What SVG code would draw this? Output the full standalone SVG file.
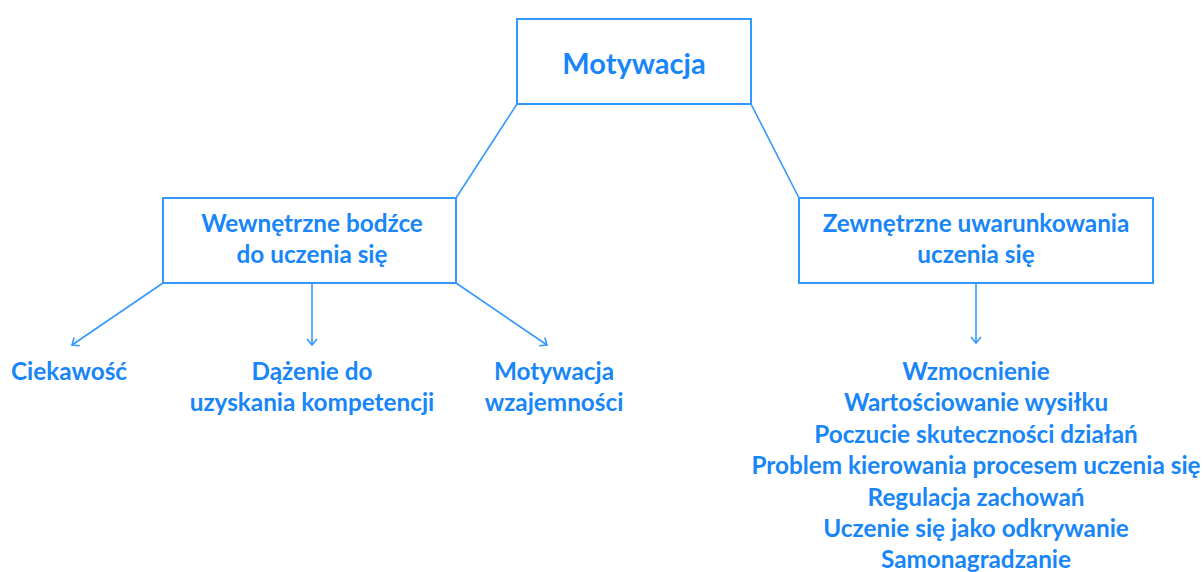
<svg xmlns="http://www.w3.org/2000/svg" width="1204" height="572" viewBox="0 0 1204 572">
  <defs>
    <style>
      .box { fill: #ffffff; stroke: #3399ff; stroke-width: 2; }
      .edge { fill: none; stroke: #3399ff; stroke-width: 1.6; }
      .arrow { fill: none; stroke: #3399ff; stroke-width: 1.6; marker-end: url(#head); }
      text { font-family: Lato, "Liberation Sans", sans-serif; font-weight: 700; fill: #1886f8; text-anchor: middle; }
      .t { font-size: 24.3px; }
      .title { font-size: 29px; }
    </style>
    <marker id="head" viewBox="-8 -6 10 12" markerWidth="10" markerHeight="12" refX="0" refY="0" orient="auto" markerUnits="userSpaceOnUse">
      <path d="M-6,-5 L0,0 L-6,5" fill="none" stroke="#3399ff" stroke-width="1.6"/>
    </marker>
  </defs>
  <rect width="1204" height="572" fill="#ffffff"/>

  <g id="connectors">
    <line class="edge" x1="517" y1="104" x2="456" y2="198"/>
    <line class="edge" x1="751" y1="104" x2="799" y2="198"/>
    <line class="arrow" x1="163" y1="283" x2="72" y2="345"/>
    <line class="arrow" x1="312" y1="283" x2="312" y2="345"/>
    <line class="arrow" x1="456" y1="283" x2="547" y2="345"/>
    <line class="arrow" x1="976" y1="283" x2="976" y2="343"/>
  </g>

  <g id="motywacja">
    <rect class="box" x="517" y="19" width="234" height="85"/>
    <text class="title" x="634" y="74">Motywacja</text>
  </g>

  <g id="wewnetrzne">
    <rect class="box" x="163" y="198" width="293" height="85"/>
    <text class="t" x="312" y="232">Wewnętrzne bodźce</text>
    <text class="t" x="312" y="263">do uczenia się</text>
  </g>

  <g id="zewnetrzne">
    <rect class="box" x="799" y="198" width="354" height="85"/>
    <text class="t" x="976" y="232">Zewnętrzne uwarunkowania</text>
    <text class="t" x="976" y="263">uczenia się</text>
  </g>

  <g id="ciekawosc">
    <text class="t" x="69" y="380">Ciekawość</text>
  </g>

  <g id="dazenie">
    <text class="t" x="312" y="380">Dążenie do</text>
    <text class="t" x="312" y="411">uzyskania kompetencji</text>
  </g>

  <g id="motywacja-wzajemnosci">
    <text class="t" x="554" y="380">Motywacja</text>
    <text class="t" x="554" y="411">wzajemności</text>
  </g>

  <g id="lista-zewnetrzna">
    <text class="t" x="976" y="380">Wzmocnienie</text>
    <text class="t" x="976" y="411.4">Wartościowanie wysiłku</text>
    <text class="t" x="976" y="442.8">Poczucie skuteczności działań</text>
    <text class="t" x="976" y="474.2">Problem kierowania procesem uczenia się</text>
    <text class="t" x="976" y="505.6">Regulacja zachowań</text>
    <text class="t" x="976" y="537">Uczenie się jako odkrywanie</text>
    <text class="t" x="976" y="568.4">Samonagradzanie</text>
  </g>
</svg>
